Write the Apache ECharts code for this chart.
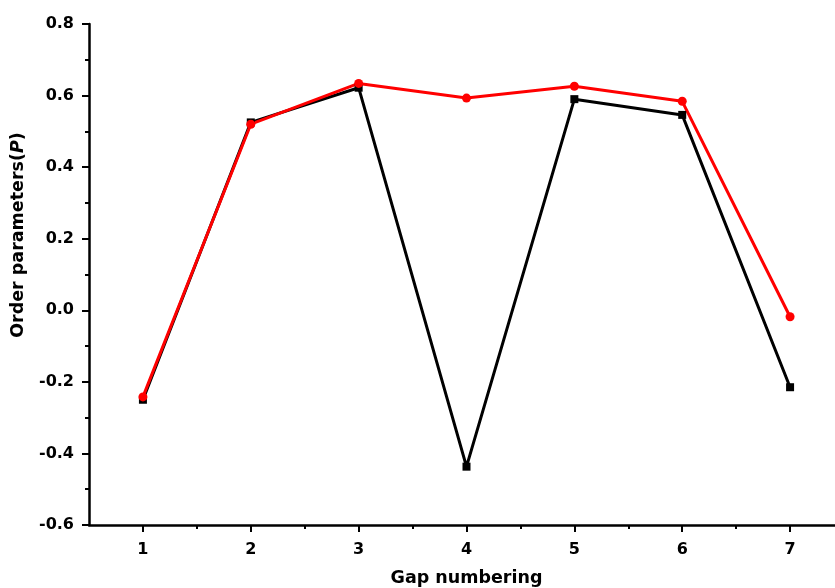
<!DOCTYPE html>
<html>
<head>
<meta charset="utf-8">
<script src="https://cdn.jsdelivr.net/npm/echarts@6/dist/echarts.min.js"></script>
<style>html,body{margin:0;padding:0;background:#fff}#c{width:835px;height:588px}</style>
</head>
<body>
<div id="c"></div>
<script>
var gaps = [1, 2, 3, 4, 5, 6, 7];
var xMinorTicks = [1.5, 2.5, 3.5, 4.5, 5.5, 6.5];
var blackValues = [-0.25, 0.525, 0.622, -0.437, 0.59, 0.546, -0.215];
var redValues = [-0.242, 0.52, 0.634, 0.593, 0.626, 0.584, -0.018];
var xTitle = 'Gap numbering';
var yTitle = 'Order parameters(';

function pairs(vals) { return gaps.map(function (g, i) { return [g, vals[i]]; }); }

var font = '"DejaVu Sans", "Liberation Sans", Arial, sans-serif';
var chart = echarts.init(document.getElementById('c'));
chart.setOption({
  animation: false,
  backgroundColor: '#fff',
  grid: { left: 89, right: -9, top: 24, bottom: 63, containLabel: false, outerBoundsMode: 'none' },
  xAxis: [{
    type: 'value', min: 0.5, max: 7.5,
    name: xTitle, nameLocation: 'middle', nameGap: 44,
    nameTextStyle: { fontFamily: font, fontWeight: 'bold', fontSize: 17.5, color: '#000' },
    axisLine: { show: true, onZero: false, lineStyle: { color: '#000', width: 2.5 } },
    axisTick: { show: true, inside: false, length: 7, customValues: gaps, lineStyle: { color: '#000', width: 2 } },
    axisLabel: { show: true, margin: 17, customValues: gaps, fontFamily: font, fontWeight: 'bold', fontSize: 16, color: '#000' },
    splitLine: { show: false }
  }, {
    type: 'value', min: 0.5, max: 7.5, position: 'bottom',
    axisLine: { show: false, onZero: false },
    axisTick: { show: true, inside: false, length: 4, customValues: xMinorTicks, lineStyle: { color: '#000', width: 2 } },
    axisLabel: { show: false },
    splitLine: { show: false }
  }],
  yAxis: {
    type: 'value', min: -0.6, max: 0.8, interval: 0.2,
    name: yTitle + '{i|P})', nameLocation: 'middle', nameGap: 62,
    nameTextStyle: { fontFamily: font, fontWeight: 'bold', fontSize: 17.5, color: '#000', padding: [0, 0, 0, 79],
      rich: { i: { fontFamily: font, fontWeight: 'bold', fontStyle: 'italic', fontSize: 17.5, color: '#000' } } },
    axisLine: { show: true, onZero: false, lineStyle: { color: '#000', width: 2.5 } },
    axisTick: { show: true, inside: false, length: 7, lineStyle: { color: '#000', width: 2 } },
    minorTick: { show: true, splitNumber: 2, length: 4, lineStyle: { color: '#000', width: 2 } },
    axisLabel: { margin: 15, fontFamily: font, fontWeight: 'bold', fontSize: 16, color: '#000',
      formatter: function (v) { return v.toFixed(1); } },
    splitLine: { show: false }
  },
  series: [{
    type: 'line', data: pairs(blackValues),
    symbol: 'rect', symbolSize: 8,
    lineStyle: { color: '#000', width: 3 },
    itemStyle: { color: '#000' }
  }, {
    type: 'line', data: pairs(redValues),
    symbol: 'circle', symbolSize: 9,
    lineStyle: { color: '#ff0000', width: 3 },
    itemStyle: { color: '#ff0000' }
  }]
});
</script>
</body>
</html>
